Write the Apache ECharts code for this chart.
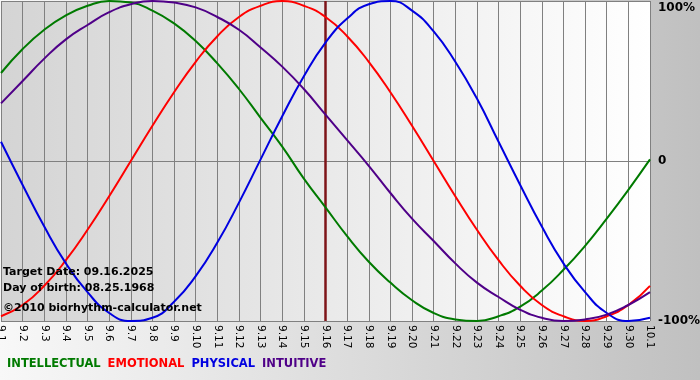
<!DOCTYPE html>
<html>
<head>
<meta charset="utf-8">
<script src="https://cdn.jsdelivr.net/npm/echarts@6/dist/echarts.min.js"></script>
<style>html,body{margin:0;padding:0;}#c{width:700px;height:380px;}</style>
</head>
<body>
<div id="c"></div>
<script>
var days = ['9.1','9.2','9.3','9.4','9.5','9.6','9.7','9.8','9.9','9.10','9.11','9.12','9.13','9.14','9.15','9.16','9.17','9.18','9.19','9.20','9.21','9.22','9.23','9.24','9.25','9.26','9.27','9.28','9.29','9.30','10.1'];
var intellectual = [55,70,82,91,97,100,99,94,86,75,61,45,27,9,-11,-29,-47,-63,-76,-87,-95,-99,-100,-97,-91,-81,-68,-53,-36,-18,1];
var emotional = [-97,-90,-78,-62,-43,-22,0,22,43,62,78,90,97,100,97,90,78,62,43,22,0,-22,-43,-62,-78,-90,-97,-100,-97,-90,-78];
var physical = [12,-15,-41,-64,-82,-95,-100,-98,-88,-72,-51,-26,1,28,53,74,89,98,100,94,81,62,39,12,-15,-41,-64,-82,-95,-100,-98];
var intuitive = [36,50,64,76,85,93,98,100,99,96,90,82,71,59,45,29,13,-3,-20,-36,-50,-64,-76,-85,-93,-98,-100,-99,-96,-90,-82];
var yTicks = {'100':'100%','0':'0','-100':'-100%'};
var targetDay = '9.16';
var infoLines = ['Target Date: 09.16.2025','Day of birth: 08.25.1968','\u00a92010 biorhythm-calculator.net'];
var names = ['INTELLECTUAL','EMOTIONAL','PHYSICAL','INTUITIVE'];
var colors = ['#007a00','#ff0000','#0000e0','#4f0088'];
var seriesData = [intellectual, emotional, physical, intuitive];

var chart = echarts.init(document.getElementById('c'), null, {renderer:'canvas'});
var font = 'DejaVu Sans, Verdana, sans-serif';
var series = names.map(function(n,i){
  return {name:n, type:'line', data:seriesData[i], smooth:true, symbol:'none',
    lineStyle:{color:colors[i], width:2}, itemStyle:{color:colors[i]}, z:3};
});
series[0].markLine = {silent:true, symbol:'none', label:{show:false},
  lineStyle:{color:'#7e1418', width:2.5, type:'solid'},
  data:[{xAxis:targetDay}], z:2};
chart.setOption({
  animation:false,
  backgroundColor:{type:'linear',x:0,y:0,x2:1,y2:0,colorStops:[{offset:0,color:'#f8f8f8'},{offset:1,color:'#c0c0c0'}]},
  textStyle:{fontFamily:font},
  grid:{left:1,right:50,top:1,bottom:59,show:true,borderWidth:0,containLabel:false,outerBoundsMode:'none',
    backgroundColor:{type:'linear',x:0,y:0,x2:1,y2:0,colorStops:[{offset:0,color:'#d4d4d4'},{offset:1,color:'#ffffff'}]}},
  legend:{left:-3,top:353,itemGap:2,icon:'none',itemWidth:0,itemHeight:0,selectedMode:false,
    textStyle:{fontFamily:font,fontWeight:'bold',fontSize:11.5},
    data:names.map(function(n,i){return {name:n,icon:'none',textStyle:{color:colors[i]}};})},
  xAxis:{type:'category',data:days,boundaryGap:false,
    axisLine:{lineStyle:{color:'#808080',width:1}},
    axisTick:{show:true,length:3,lineStyle:{color:'#808080'}},
    splitLine:{show:true,lineStyle:{color:'#808080',width:1}},
    axisLabel:{rotate:-90,interval:0,color:'#000',fontSize:10.5,fontFamily:font,margin:4}},
  yAxis:{type:'value',position:'right',min:-100,max:100,interval:100,
    axisLine:{show:false},axisTick:{show:false},
    splitLine:{show:true,lineStyle:{color:'#808080',width:1}},
    axisLabel:{margin:8,color:'#000',fontWeight:'bold',fontSize:12,fontFamily:font,
      formatter:function(v){var t=yTicks[String(v)]; return v===100?'{top|'+t+'}':t;},
      rich:{top:{padding:[14,0,0,0],fontWeight:'bold',fontSize:12,color:'#000',fontFamily:font}}}},
  series:series,
  graphic:infoLines.map(function(t,i){
    return {type:'text',left:3,top:[267,283,303][i],z:100,
      style:{text:t,fill:'#000',font:'bold 11px '+font}};
  })
});
</script>
</body>
</html>
